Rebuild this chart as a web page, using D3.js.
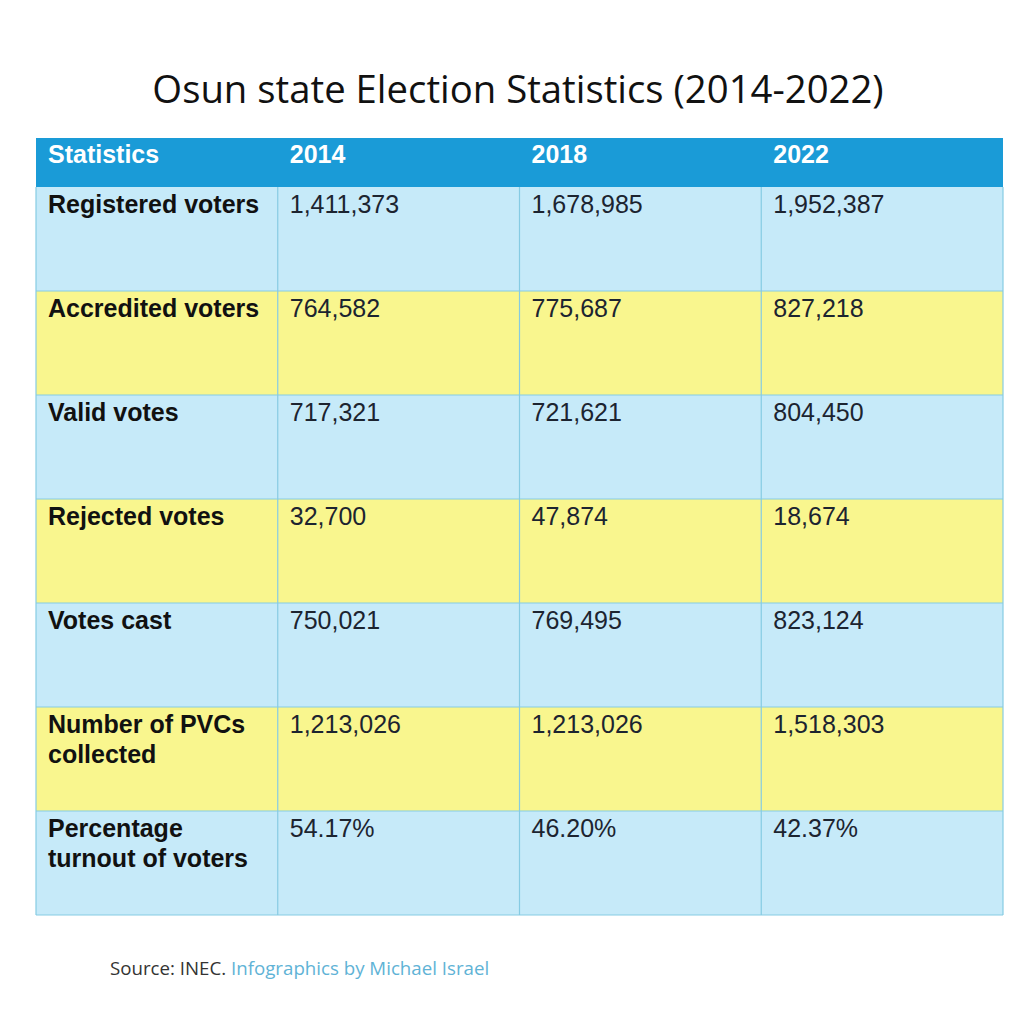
<!DOCTYPE html>
<html>
<head>
<meta charset="utf-8">
<script src="https://cdn.jsdelivr.net/npm/d3@7"></script>
<style>
  html, body { margin: 0; padding: 0; background: #ffffff; }
</style>
</head>
<body>
<div id="chart"></div>
<script>
// Table content
const title = "Osun state Election Statistics (2014-2022)";
const headers = ["Statistics", "2014", "2018", "2022"];
const statistics = [
    ["Registered voters"],
    ["Accredited voters"],
    ["Valid votes"],
    ["Rejected votes"],
    ["Votes cast"],
    ["Number of PVCs", "collected"],
    ["Percentage", "turnout of voters"],
];
const values2014 = ["1,411,373", "764,582", "717,321", "32,700", "750,021", "1,213,026", "54.17%"];
const values2018 = ["1,678,985", "775,687", "721,621", "47,874", "769,495", "1,213,026", "46.20%"];
const values2022 = ["1,952,387", "827,218", "804,450", "18,674", "823,124", "1,518,303", "42.37%"];

const COLORS = {
    HEADER: "#1a9bd7",
    BLUE: "#c6eaf9",
    YELLOW: "#f9f68e",
    GRID: "#86cbe3",
    TEXT: "#111111",
    VALUE: "#1c2430",
    LINK: "#5fb3d6",
    SOURCE: "#333333",
};

// Geometry
const width = 1024, height = 1024;
const tableLeft = 36, tableRight = 1003;
const headerTop = 138, headerBottom = 187, tableBottom = 915;
const cellFont = 25;

const svg = d3.select("#chart").append("svg")
    .attr("width", width)
    .attr("height", height);

// Title
svg.append("text")
    .attr("x", 518)
    .attr("y", 103)
    .attr("text-anchor", "middle")
    .attr("font-family", "'Open Sans', sans-serif")
    .attr("font-size", 38.3)
    .attr("fill", "#111")
    .text(title);

const x = d3.scaleBand()
    .domain(d3.range(headers.length))
    .range([tableLeft, tableRight]);

const y = d3.scaleBand()
    .domain(d3.range(statistics.length))
    .range([headerBottom, tableBottom]);

const rows = statistics.map((s, i) => [s, [values2014[i]], [values2018[i]], [values2022[i]]]);

// Header band
svg.append("rect")
    .attr("x", tableLeft)
    .attr("y", headerTop)
    .attr("width", tableRight - tableLeft)
    .attr("height", headerBottom - headerTop)
    .attr("fill", COLORS.HEADER);

svg.selectAll(".headerText")
    .data(headers)
    .enter()
    .append("text")
    .attr("class", "headerText")
    .attr("x", (d, i) => x(i) + 12)
    .attr("y", headerTop + 25)
    .attr("font-family", "'Liberation Sans', Arial, sans-serif")
    .attr("font-weight", "bold")
    .attr("font-size", cellFont)
    .attr("fill", "#ffffff")
    .text(d => d);

// Row backgrounds
svg.selectAll(".rowBg")
    .data(rows)
    .enter()
    .append("rect")
    .attr("class", "rowBg")
    .attr("x", tableLeft)
    .attr("y", (d, i) => y(i))
    .attr("width", tableRight - tableLeft)
    .attr("height", y.bandwidth())
    .attr("fill", (d, i) => i % 2 === 0 ? COLORS.BLUE : COLORS.YELLOW);

// Grid lines
const grid = svg.append("g")
    .attr("stroke", COLORS.GRID)
    .attr("stroke-width", 1.2)
    .attr("fill", "none");

grid.selectAll(".hLine")
    .data(d3.range(1, statistics.length + 1))
    .enter()
    .append("line")
    .attr("x1", tableLeft)
    .attr("x2", tableRight)
    .attr("y1", i => y(i) ?? tableBottom)
    .attr("y2", i => y(i) ?? tableBottom);

grid.selectAll(".vLine")
    .data(d3.range(1, headers.length))
    .enter()
    .append("line")
    .attr("x1", i => x(i))
    .attr("x2", i => x(i))
    .attr("y1", headerBottom)
    .attr("y2", tableBottom);

grid.append("line")
    .attr("x1", tableLeft).attr("x2", tableLeft)
    .attr("y1", headerBottom).attr("y2", tableBottom);
grid.append("line")
    .attr("x1", tableRight).attr("x2", tableRight)
    .attr("y1", headerBottom).attr("y2", tableBottom);

// Cell text
const rowGroups = svg.selectAll(".row")
    .data(rows)
    .enter()
    .append("g")
    .attr("class", "row")
    .attr("transform", (d, i) => `translate(0,${y(i)})`);

rowGroups.selectAll(".cell")
    .data(d => d)
    .enter()
    .append("text")
    .attr("class", "cell")
    .attr("x", (d, j) => x(j) + 12)
    .attr("y", 26)
    .attr("font-family", "'Liberation Sans', Arial, sans-serif")
    .attr("font-weight", (d, j) => j === 0 ? "bold" : "normal")
    .attr("font-size", cellFont)
    .attr("fill", (d, j) => j === 0 ? COLORS.TEXT : COLORS.VALUE)
    .each(function(lines) {
        d3.select(this).selectAll("tspan")
            .data(lines)
            .enter()
            .append("tspan")
            .attr("x", d3.select(this).attr("x"))
            .attr("dy", (d, k) => k === 0 ? 0 : 30)
            .text(d => d);
    });

// Source line
const source = svg.append("text")
    .attr("x", 110)
    .attr("y", 975)
    .attr("font-family", "'Open Sans', sans-serif")
    .attr("font-size", 18.7);
source.append("tspan").attr("fill", COLORS.SOURCE).text("Source: INEC. ");
source.append("tspan").attr("fill", COLORS.LINK).text("Infographics by Michael Israel");
</script>
</body>
</html>
